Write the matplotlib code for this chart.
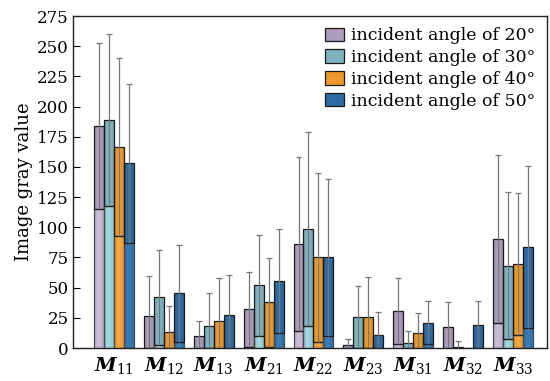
import numpy as np
import matplotlib.pyplot as plt
from matplotlib.colors import LinearSegmentedColormap, to_rgb

plt.rcParams['font.family'] = 'DejaVu Serif'
plt.rcParams['mathtext.fontset'] = 'custom'
plt.rcParams['mathtext.it'] = 'DejaVu Serif:italic:bold'
plt.rcParams['mathtext.rm'] = 'DejaVu Serif'

elements = ['11', '12', '13', '21', '22', '23', '31', '32', '33']
angles = [20, 30, 40, 50]

# mean gray value and standard deviation per Mueller element, one list per angle
mean_20 = [184, 26.5, 9.7, 32, 86, 2.2, 30.6, 17.4, 90.3]
mean_30 = [189, 42, 18, 52, 98.6, 25.7, 4, 1, 68.2]
mean_40 = [166.5, 13.5, 22.6, 37.8, 75, 25.7, 12.4, 0.3, 69.6]
mean_50 = [153, 45.3, 27.3, 55.8, 75, 10.8, 21, 19.3, 83.7]
std_20 = [69, 33.5, 13, 31, 72, 5.5, 27.4, 20.7, 69.6]
std_30 = [71, 39.5, 27.5, 42, 80.6, 26, 10, 5, 61]
std_40 = [73.5, 21.5, 35, 37, 70, 33, 17, 0, 58.6]
std_50 = [66, 40, 33, 43, 65, 19, 18, 20, 67]

means = [mean_20, mean_30, mean_40, mean_50]
stds = [std_20, std_30, std_40, std_50]
dark_colors = ['#ab9cb9', '#7fb3c0', '#ec982c', '#2d6ba4']
light_colors = ['#c6b9d3', '#9dd2dc', '#f3a43a', '#3578b4']

fig = plt.figure(figsize=(5.5, 3.81), dpi=100)
ax = fig.add_axes([0.1327, 0.0866, 0.8618, 0.8714])

x = np.arange(len(elements))
width = 0.2


def shaded_bar(ax, x0, y0, y1, color, edge):
    # bar with a mild horizontal gradient, a bit lighter towards the middle
    if y1 <= y0:
        return
    rgb = np.array(to_rgb(color))
    cmap = LinearSegmentedColormap.from_list(
        'g', [rgb * 0.93, np.minimum(rgb * 1.04, 1), rgb * 0.93])
    rect = plt.Rectangle((x0, y0), width, y1 - y0, facecolor='none',
                         edgecolor=edge, linewidth=0.9, zorder=3)
    ax.add_patch(rect)
    grad = np.linspace(0, 1, 32).reshape(1, -1)
    im = ax.imshow(grad, extent=[x0, x0 + width, y0, y1], aspect='auto',
                   cmap=cmap, zorder=2, interpolation='bicubic')
    im.set_clip_path(rect)


for i in range(len(angles)):
    xs = x + (i - 1.5) * width
    for j in range(len(elements)):
        m = means[i][j]
        s = stds[i][j]
        low = max(m - s, 0)
        x0 = xs[j] - width / 2
        shaded_bar(ax, x0, 0, low, light_colors[i], '#4a4a4a')
        shaded_bar(ax, x0, low, m, dark_colors[i], '#1a1a1a')
        ax.vlines(xs[j], low, m + s, color='#777777', linewidth=0.9, zorder=4)
        ax.hlines(m + s, xs[j] - 0.06, xs[j] + 0.06, color='#777777',
                  linewidth=0.9, zorder=4)

handles = [plt.Rectangle((0, 0), 1, 1, facecolor=dark_colors[i],
                         edgecolor='#1a1a1a', linewidth=0.9)
           for i in range(len(angles))]
ax.legend(handles, ['incident angle of %d°' % a for a in angles],
          loc='upper right', frameon=False, fontsize=12.5,
          handlelength=1.1, handleheight=0.8, handletextpad=0.4,
          labelspacing=0.28, borderaxespad=0.25, bbox_to_anchor=(1.0, 1.0))

ax.set_xlim(-0.82, 8.68)
ax.set_ylim(0, 275)
ax.set_yticks(np.arange(0, 276, 25))
ax.set_xticks(x)
ax.set_xticklabels([r'$M_{%s}$' % e for e in elements], fontsize=14)
ax.tick_params(axis='x', length=0, pad=5)
ax.tick_params(axis='y', direction='in', length=5, labelsize=12, pad=3)
ax.set_ylabel('Image gray value', fontsize=13, labelpad=3)
for sp in ax.spines.values():
    sp.set_linewidth(1.0)
    sp.set_color('#222222')

fig.savefig('out.png', dpi=100)
